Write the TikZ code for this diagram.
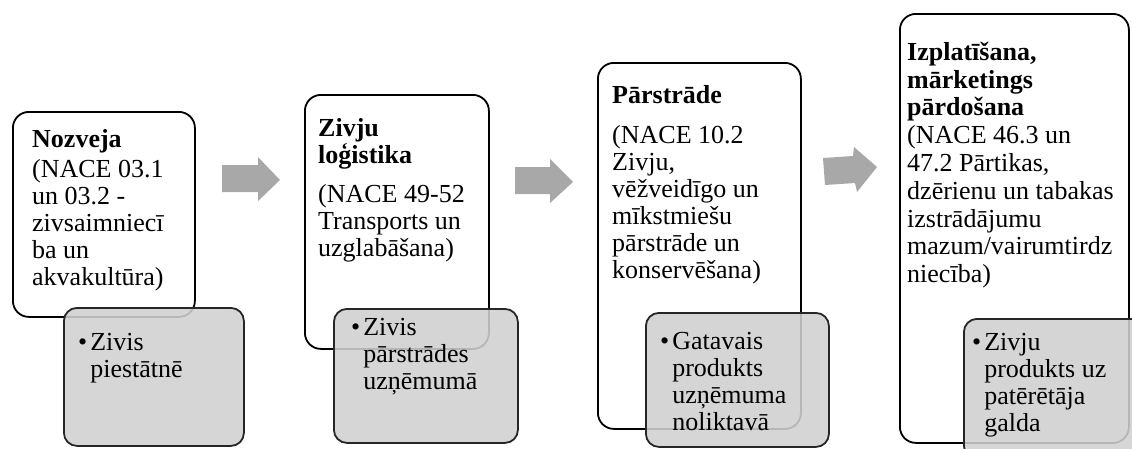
\documentclass[tikz,border=0pt]{standalone}
\usepackage{fontspec}
\setmainfont{Liberation Serif}
\definecolor{boxgray}{HTML}{D0D0D0}
\definecolor{arrowgray}{HTML}{A8A8A8}
\newcommand\grayindent{\hphantom{\textbullet\hspace{3pt}}}
\newcommand\firstline{\rule{0pt}{20pt}}
\begin{document}
\begin{tikzpicture}[x=1pt,y=-1pt,
  wbox/.style={draw=black, line width=1.8pt, rounded corners=16pt, fill=white, anchor=north west, inner sep=0pt},
  gbox/.style={draw=black!85, line width=1.8pt, rounded corners=13pt, fill=boxgray, fill opacity=0.88, draw opacity=1, anchor=north west, inner sep=0pt},
  txt/.style={anchor=north west, inner sep=0pt, align=left, font=\fontsize{26}{27}\selectfont},
  blockarrow/.style={fill=arrowgray, draw=none}]
\useasboundingbox (0,0) rectangle (1132,448);
\clip (0,0) rectangle (1132,448);

% arrows
\fill[blockarrow] (222,165) -- (258,165) -- (258,157) -- (280,180) -- (258,201) -- (258,192) -- (222,192) -- cycle;
\fill[blockarrow] (515,167) -- (550,167) -- (550,159) -- (573,182) -- (550,203) -- (550,194) -- (515,194) -- cycle;
\fill[blockarrow] (823,158) -- (853,156) -- (854,147) -- (877,167) -- (857,192) -- (855,183) -- (825,185) -- cycle;

% box 1
\node[wbox, minimum width=182pt, minimum height=205pt] (b1) at (12,111) {};
\node[txt] (t1) at (32,127) {\firstline\textbf{Nozveja}\\[3pt](NACE 03.1\\un 03.2 -\\zivsaimniecī\\ba un\\akvakultūra)};
\node[gbox, minimum width=180pt, minimum height=138pt] (g1) at (63,307) {};
\node[txt] (s1) at (78,330) {\firstline\textbullet\hspace{3pt}Zivis\\\grayindent piestātnē};

% box 2
\node[wbox, minimum width=184pt, minimum height=254pt] (b2) at (304,94) {};
\node[txt] (t2) at (318,116) {\firstline\textbf{Zivju}\\\textbf{loģistika}\\[12pt](NACE 49-52\\Transports un\\uzglabāšana)};
\node[gbox, minimum width=184pt, minimum height=134pt] (g2) at (333,308) {};
\node[txt] (s2) at (351,315) {\firstline\textbullet\hspace{3pt}Zivis\\\grayindent pārstrādes\\\grayindent uzņēmumā};

% box 3
\node[wbox, minimum width=203pt, minimum height=366pt] (b3) at (597,62) {};
\node[txt] (t3) at (612,83) {\firstline\textbf{Pārstrāde}\\[13pt](NACE 10.2\\Zivju,\\vēžveidīgo un\\mīkstmiešu\\pārstrāde un\\konservēšana)};
\node[gbox, minimum width=183pt, minimum height=134pt] (g3) at (645,312) {};
\node[txt] (s3) at (660,329) {\firstline\textbullet\hspace{3pt}Gatavais\\\grayindent produkts\\\grayindent uzņēmuma\\\grayindent noliktavā};

% box 4
\node[wbox, minimum width=229pt, minimum height=429pt] (b4) at (899,13) {};
\node[txt, font=\fontsize{26}{27.8}\selectfont] (t4) at (907,40) {\firstline\textbf{Izplatīšana,}\\\textbf{mārketings}\\\textbf{pārdošana}\\(NACE 46.3 un\\47.2 Pārtikas,\\dzērienu un tabakas\\izstrādājumu\\mazum/vairumtirdz\\niecība)};
\node[gbox, minimum width=185pt, minimum height=140pt] (g4) at (963,318) {};
\node[txt] (s4) at (972,330) {\firstline\textbullet\hspace{3pt}Zivju\\\grayindent produkts uz\\\grayindent patērētāja\\\grayindent galda};
\end{tikzpicture}
\end{document}
